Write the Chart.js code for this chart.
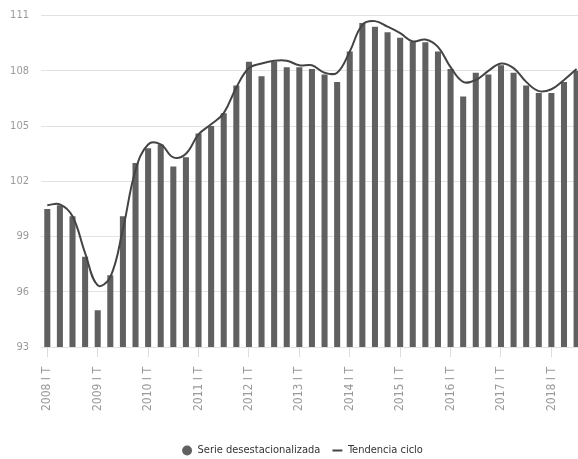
<!DOCTYPE html>
<html>
<head>
<meta charset="utf-8">
<script src="https://cdn.jsdelivr.net/npm/chart.js@4"></script>
<style>
  html, body { margin: 0; padding: 0; background: #fff; overflow: hidden; }
  #wrap { width: 578px; height: 459px; overflow: hidden; }
  #grafico { display: block; margin-top: -3px; }
</style>
</head>
<body>
<div id="wrap"><canvas id="grafico"></canvas></div>
<script>
// trimestres 2008 I T ... 2018 III T
const anios = ["2008","2009","2010","2011","2012","2013","2014","2015","2016","2017","2018"];
const trimestres = ["I T","II T","III T","IV T"];

const serieDesestacionalizada = [
  100.5, 100.7, 100.1, 97.9,
  95.0, 96.9, 100.1, 103.0,
  103.8, 104.0, 102.8, 103.3,
  104.6, 105.0, 105.7, 107.2,
  108.5, 107.7, 108.5, 108.2,
  108.2, 108.1, 107.8, 107.4,
  109.05, 110.6, 110.4, 110.1,
  109.8, 109.6, 109.55, 109.05,
  108.1, 106.6, 107.9, 107.8,
  108.3, 107.9, 107.2, 106.8,
  106.8, 107.4, 108.0
];

const tendenciaCiclo = [
  100.7, 100.75, 100.1, 98.1,
  96.35, 96.8, 99.4, 102.6,
  104.0, 104.0, 103.3, 103.5,
  104.55, 105.1, 105.7, 107.1,
  108.15, 108.4, 108.55, 108.55,
  108.3, 108.3, 107.9, 107.9,
  109.05, 110.5, 110.7, 110.4,
  110.05, 109.6, 109.7, 109.3,
  108.2, 107.4, 107.5, 108.0,
  108.4, 108.15, 107.4, 106.9,
  107.0, 107.5, 108.1
];

const ticksY = [93, 96, 99, 102, 105, 108, 111];

const etiquetas = [];
anios.forEach(a => trimestres.forEach(t => etiquetas.push(a + " " + t)));
etiquetas.length = serieDesestacionalizada.length;

const fuente = "'Liberation Sans Narrow', 'DejaVu Sans Condensed', 'Liberation Sans', sans-serif";

const canvas = document.getElementById("grafico");
canvas.style.width = "601px";
canvas.style.height = "462px";
canvas.width = 601;
canvas.height = 462;

new Chart(canvas.getContext("2d"), {
  data: {
    labels: etiquetas,
    datasets: [
      {
        type: "line",
        label: "Tendencia ciclo",
        data: tendenciaCiclo,
        borderColor: "#444444",
        backgroundColor: "#444444",
        borderWidth: 2,
        pointRadius: 0,
        tension: 0.4,
        pointStyle: "line",
        order: 0
      },
      {
        type: "bar",
        label: "Serie desestacionalizada",
        data: serieDesestacionalizada,
        backgroundColor: "#606060",
        borderWidth: 0,
        categoryPercentage: 1,
        barPercentage: 0.48,
        pointStyle: "circle",
        order: 1
      }
    ]
  },
  options: {
    responsive: false,
    maintainAspectRatio: false,
    animation: false,
    layout: { padding: { top: 4, left: 5, right: 1, bottom: -7 } },
    plugins: {
      legend: {
        position: "bottom",
        reverse: true,
        labels: {
          usePointStyle: true,
          boxWidth: 10,
          boxHeight: 7,
          padding: 12,
          color: "#333",
          font: { family: fuente, size: 11 }
        }
      },
      tooltip: { enabled: false }
    },
    scales: {
      y: {
        min: 93,
        max: 111,
        afterBuildTicks: axis => { axis.ticks = ticksY.map(v => ({ value: v })); },
        afterFit: axis => { axis.width = 36; },
        border: { display: false },
        grid: { color: "#e2e2e2", lineWidth: 1, drawTicks: false },
        ticks: {
          padding: 12,
          color: "#9a9a9a",
          font: { family: fuente, size: 11 }
        }
      },
      x: {
        afterFit: axis => { axis.height = 86; },
        border: { display: false },
        grid: {
          offset: false,
          drawOnChartArea: false,
          tickLength: 10,
          color: ctx => (ctx.index % 4 === 0 ? "#dddddd" : "rgba(0,0,0,0)")
        },
        ticks: {
          autoSkip: false,
          maxRotation: 90,
          minRotation: 90,
          padding: 10,
          color: "#9a9a9a",
          font: { family: fuente, size: 12 },
          callback: (v, i) => (i % 4 === 0 ? etiquetas[i] : "")
        }
      }
    }
  }
});
</script>
</body>
</html>
